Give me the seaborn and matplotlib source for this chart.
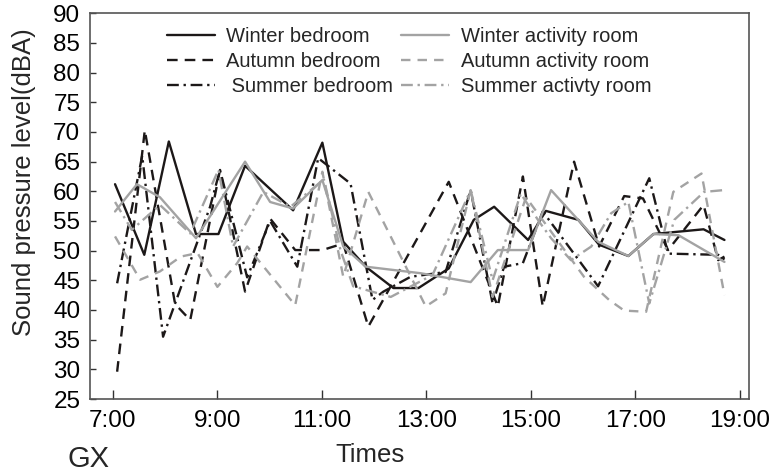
import matplotlib
matplotlib.use("Agg")
import matplotlib.pyplot as plt
import seaborn as sns
import pandas as pd

# ---------------- data (hours, dBA) ----------------
wb_t = [7.04, 7.60, 8.07, 8.59, 9.02, 9.53, 10.45, 11.01, 11.41, 11.84, 12.37, 12.85,
        13.43, 13.91, 14.30, 14.95, 15.29, 15.91, 16.31, 16.87, 17.35, 18.31, 18.71]
wb_v = [61.2, 49.3, 68.4, 52.8, 52.8, 64.3, 56.8, 68.2, 51.5, 47.3, 43.7, 43.7,
        47.0, 55.2, 57.4, 51.8, 56.7, 55.2, 51.0, 49.1, 52.8, 53.6, 51.8]

ab_t = [7.08, 7.61, 8.19, 8.48, 9.05, 9.53, 10.01, 10.49, 11.01, 11.41, 11.89, 13.43,
        14.37, 14.85, 15.23, 15.83, 16.31, 16.79, 17.15, 17.63, 18.31, 18.59, 18.71]
ab_v = [29.6, 70.3, 41.0, 38.3, 63.6, 43.1, 55.4, 50.1, 50.1, 51.2, 37.2, 61.6,
        40.6, 62.5, 40.6, 65.0, 50.7, 59.2, 58.8, 50.1, 57.7, 48.4, 49.0]

sb_t = [7.08, 7.56, 7.96, 8.86, 9.05, 9.57, 10.01, 10.53, 10.93, 11.55, 11.97, 12.18,
        12.70, 13.37, 13.85, 14.27, 14.49, 14.85, 15.23, 16.29, 17.27, 17.63, 18.59, 18.71]
sb_v = [44.5, 66.0, 35.5, 57.4, 63.6, 45.5, 55.0, 47.3, 65.6, 61.3, 41.7, 43.1,
        45.6, 46.4, 60.2, 41.1, 47.3, 47.9, 56.6, 44.0, 62.2, 49.5, 49.3, 48.5]

wa_t = [7.04, 7.46, 7.90, 8.59, 9.53, 10.01, 10.45, 11.01, 11.41, 11.84, 12.89, 13.85,
        14.37, 14.95, 15.39, 16.29, 16.87, 17.35, 17.83, 18.71]
wa_v = [56.6, 61.2, 59.0, 52.1, 65.0, 58.2, 57.1, 61.9, 50.7, 47.3, 46.2, 44.7,
        50.1, 50.1, 60.2, 51.5, 49.1, 52.8, 52.6, 48.1]

aa_t = [7.04, 7.52, 7.90, 8.30, 8.62, 9.00, 9.38, 9.57, 10.49, 11.01, 11.41, 11.89,
        12.99, 13.37, 13.85, 14.27, 14.91, 16.02, 16.50, 16.79, 17.21, 17.73, 18.27, 18.71]
aa_v = [52.4, 45.1, 46.5, 49.0, 49.6, 43.9, 47.9, 50.7, 40.8, 63.3, 45.6, 59.9,
        40.6, 42.8, 60.2, 42.2, 59.0, 45.6, 41.7, 39.9, 39.7, 59.9, 63.0, 42.5]

sa_t = [7.04, 7.36, 7.90, 8.48, 9.02, 9.30, 9.88, 10.40, 11.04, 11.36, 11.60, 12.32,
        13.12, 13.85, 14.27, 14.81, 15.16, 15.39, 15.77, 16.16, 16.54, 16.87, 17.27,
        17.75, 18.32, 18.69]
sa_v = [58.2, 53.5, 57.7, 52.9, 63.6, 50.7, 59.9, 57.4, 62.0, 50.0, 44.0, 42.2,
        45.9, 60.2, 45.0, 59.6, 54.9, 52.1, 48.4, 50.7, 56.3, 58.2, 41.1,
        55.2, 59.9, 60.2]

xtick_pos = [7, 9, 11, 13, 15, 17, 19]
xtick_lab = ["7:00", "9:00", "11:00", "13:00", "15:00", "17:00", "19:00"]
ytick_pos = list(range(25, 91, 5))

# ---------------- style ----------------
sns.set_theme(style="white")
plt.rcParams["font.family"] = ["Liberation Sans", "DejaVu Sans"]

fig = plt.figure(figsize=(7.69, 4.75), dpi=100)
ax = fig.add_axes([0.117, 0.160, 0.857, 0.812])

BLACK = "#1c1818"
GRAY = "#a3a3a3"
series = [
    ("Winter bedroom", wb_t, wb_v, BLACK, "-"),
    ("Autumn bedroom", ab_t, ab_v, BLACK, (0, (4.5, 3))),
    (" Summer bedroom", sb_t, sb_v, BLACK, (0, (5, 2, 1, 2))),
    ("Winter activity room", wa_t, wa_v, GRAY, "-"),
    ("Autumn activity room", aa_t, aa_v, GRAY, (0, (4, 3))),
    ("Summer activty room", sa_t, sa_v, GRAY, (0, (5, 2, 1, 2))),
]
for name, t, v, c, ls in series:
    df = pd.DataFrame({"t": t, "v": v})
    sns.lineplot(data=df, x="t", y="v", ax=ax, color=c, linestyle=ls,
                 linewidth=1.7, label=name, sort=False, estimator=None)

ax.set_xlim(6.56, 19.18)
ax.set_ylim(25, 90)
ax.set_xticks(xtick_pos)
ax.set_xticklabels(xtick_lab)
ax.set_yticks(ytick_pos)
ax.tick_params(axis="both", direction="in", width=1, color="#333333",
               labelsize=17.5, labelcolor="black", left=True, bottom=True)
ax.tick_params(axis="y", pad=7, length=4.5)
ax.tick_params(axis="x", pad=8, length=6.5)
for s in ax.spines.values():
    s.set_color("#555555")
    s.set_linewidth(1.2)
    s.set_visible(True)

ax.set_xlabel("Times", fontsize=18.5)
ax.xaxis.set_label_coords(0.425, -0.115)
ax.set_ylabel("Sound pressure level(dBA)", fontsize=18.5)
ax.yaxis.set_label_coords(-0.082, 0.562)

leg = ax.legend(ncol=2, frameon=False, loc="upper left",
                bbox_to_anchor=(0.095, 1.0), fontsize=14.5,
                handlelength=2.4, handletextpad=0.55, columnspacing=0.4,
                labelspacing=0.3, borderaxespad=0.3)

fig.text(0.088, 0.005, "GX", fontsize=21, ha="left", va="bottom")

fig.savefig("out.png", dpi=100)
